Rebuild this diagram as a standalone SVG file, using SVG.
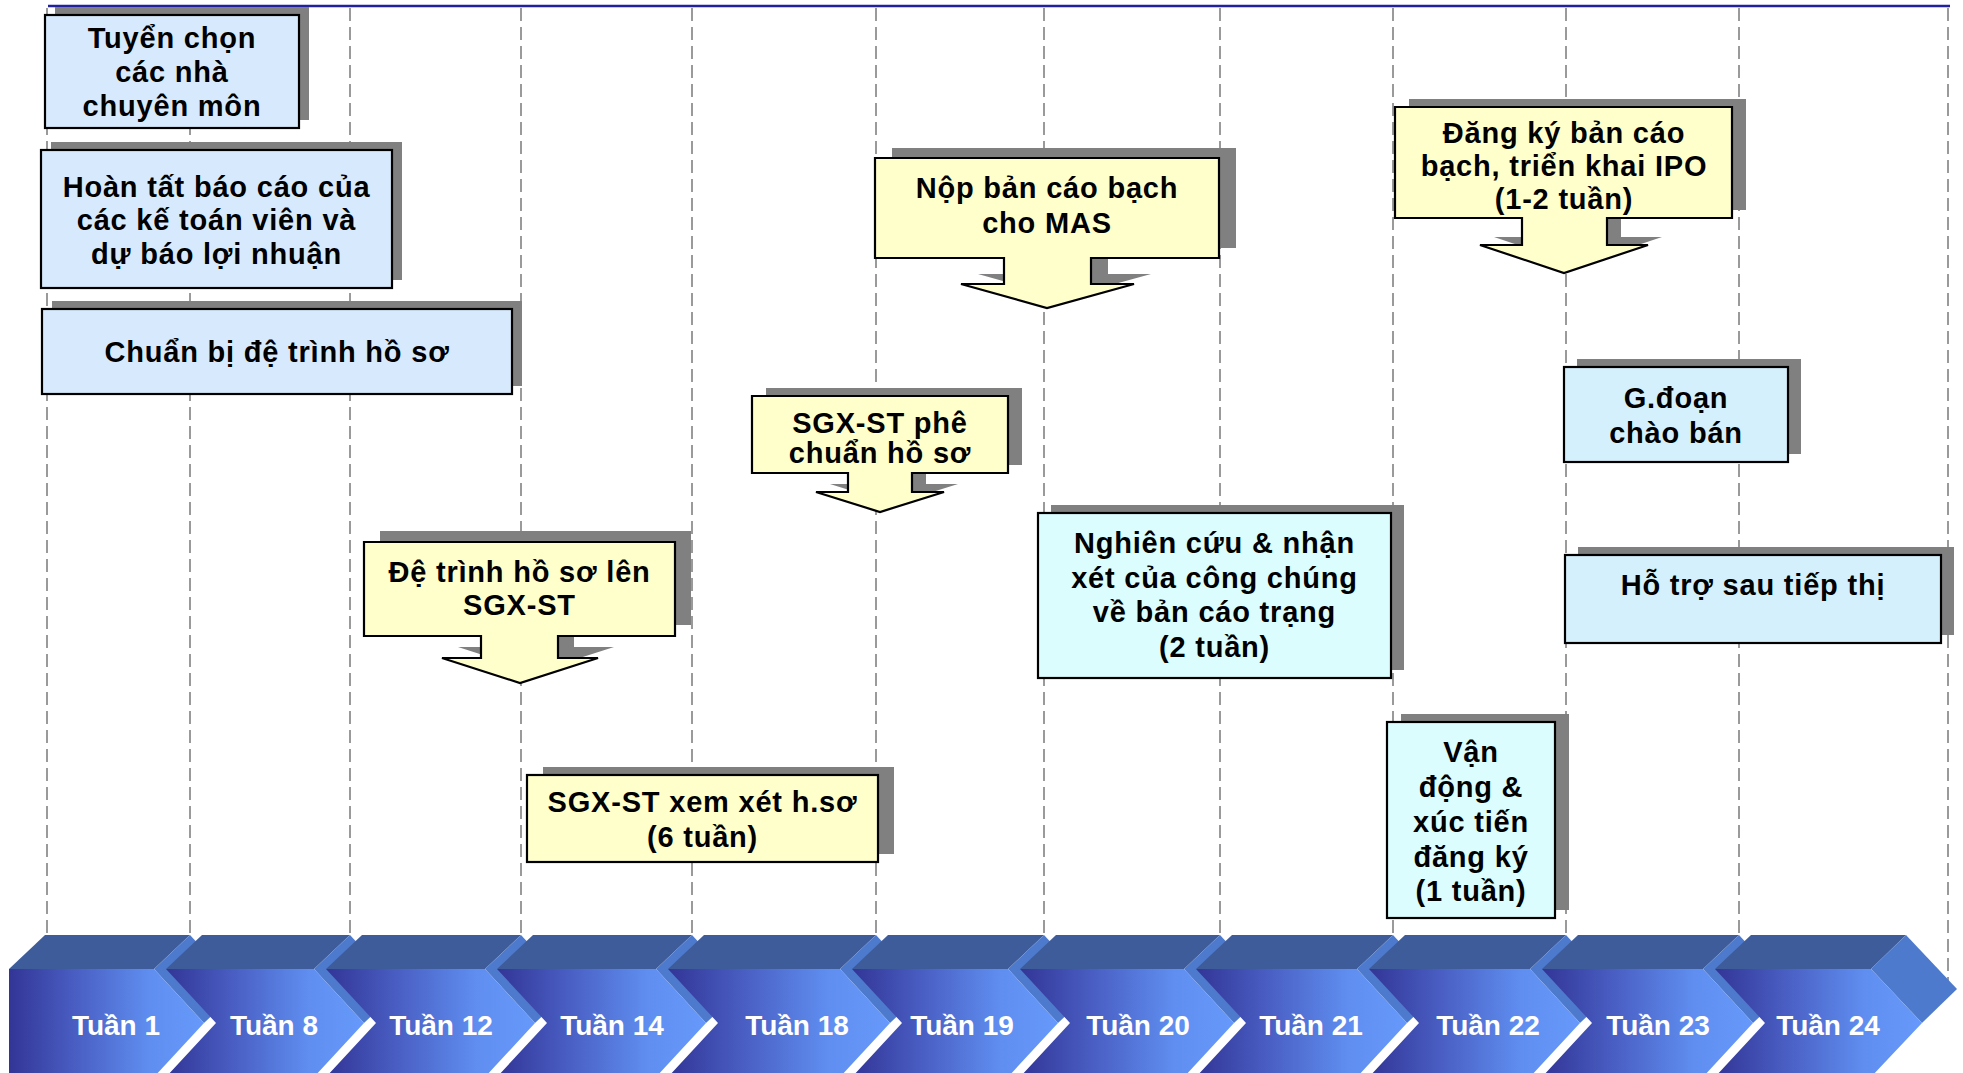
<svg xmlns="http://www.w3.org/2000/svg" width="1963" height="1073" viewBox="0 0 1963 1073">
<defs>
<linearGradient id="gFront" x1="0" y1="0" x2="1" y2="0">
<stop offset="0" stop-color="#323596"/>
<stop offset="0.35" stop-color="#4a5fc4"/>
<stop offset="0.72" stop-color="#5f8ef0"/>
<stop offset="1" stop-color="#6699fb"/>
</linearGradient>
<style>
.bg{fill:#ffffff}
.grid{stroke:#9a9a9a;stroke-width:2;stroke-dasharray:13 6;fill:none}
.sh{fill:#808080}
.bx{stroke:#000;stroke-width:2.2}
.blue{fill:#d7eafd}
.sky{fill:#d4f0fc}
.cyan{fill:#dbfdfe}
.yel{fill:#ffffcc}
.t{font-family:"Liberation Sans",Arial,sans-serif;font-weight:bold;font-size:29px;letter-spacing:0.8px;fill:#000;text-anchor:middle}
.top{fill:#3e5c9a}
.side{fill:#4e7acd}
.front{fill:url(#gFront)}
.ct{font-family:"Liberation Sans",Arial,sans-serif;font-weight:bold;font-size:28px;fill:#fff;text-anchor:middle}
</style>
</defs>
<rect class="bg" x="0" y="0" width="1963" height="1073"/>
<line x1="48" y1="6" x2="1950" y2="6" stroke="#2020a0" stroke-width="2.5"/>
<g id="gridlines">
<line class="grid" x1="47" y1="8" x2="47" y2="940"/>
<line class="grid" x1="190" y1="8" x2="190" y2="940"/>
<line class="grid" x1="350" y1="8" x2="350" y2="940"/>
<line class="grid" x1="521" y1="8" x2="521" y2="940"/>
<line class="grid" x1="692" y1="8" x2="692" y2="940"/>
<line class="grid" x1="876" y1="8" x2="876" y2="940"/>
<line class="grid" x1="1044" y1="8" x2="1044" y2="940"/>
<line class="grid" x1="1220" y1="8" x2="1220" y2="940"/>
<line class="grid" x1="1393" y1="8" x2="1393" y2="940"/>
<line class="grid" x1="1566" y1="8" x2="1566" y2="940"/>
<line class="grid" x1="1739" y1="8" x2="1739" y2="940"/>
<line class="grid" x1="1948" y1="8" x2="1948" y2="990"/>
</g>
<g id="timeline">
<g id="week1"><polygon class="top" points="9,969 45,935 190,935 154,969"/><polygon class="side" points="154,969 190,935 240,989 204,1023"/><polygon class="front" points="9,969 154,969 204,1023 154,1077 9,1077"/><text class="ct" x="116" y="1035">Tuần 1</text></g>
<g id="week8"><polygon class="top" points="166,969 202,935 350,935 314,969"/><polygon class="side" points="314,969 350,935 400,989 364,1023"/><polygon class="front" points="166,969 314,969 364,1023 314,1077 166,1077 216,1023"/><text class="ct" x="274" y="1035">Tuần 8</text></g>
<g id="week12"><polygon class="top" points="326,969 362,935 521,935 485,969"/><polygon class="side" points="485,969 521,935 571,989 535,1023"/><polygon class="front" points="326,969 485,969 535,1023 485,1077 326,1077 376,1023"/><text class="ct" x="441" y="1035">Tuần 12</text></g>
<g id="week14"><polygon class="top" points="497,969 533,935 692,935 656,969"/><polygon class="side" points="656,969 692,935 742,989 706,1023"/><polygon class="front" points="497,969 656,969 706,1023 656,1077 497,1077 547,1023"/><text class="ct" x="612" y="1035">Tuần 14</text></g>
<g id="week18"><polygon class="top" points="668,969 704,935 876,935 840,969"/><polygon class="side" points="840,969 876,935 926,989 890,1023"/><polygon class="front" points="668,969 840,969 890,1023 840,1077 668,1077 718,1023"/><text class="ct" x="797" y="1035">Tuần 18</text></g>
<g id="week19"><polygon class="top" points="852,969 888,935 1044,935 1008,969"/><polygon class="side" points="1008,969 1044,935 1094,989 1058,1023"/><polygon class="front" points="852,969 1008,969 1058,1023 1008,1077 852,1077 902,1023"/><text class="ct" x="962" y="1035">Tuần 19</text></g>
<g id="week20"><polygon class="top" points="1020,969 1056,935 1220,935 1184,969"/><polygon class="side" points="1184,969 1220,935 1270,989 1234,1023"/><polygon class="front" points="1020,969 1184,969 1234,1023 1184,1077 1020,1077 1070,1023"/><text class="ct" x="1138" y="1035">Tuần 20</text></g>
<g id="week21"><polygon class="top" points="1196,969 1232,935 1393,935 1357,969"/><polygon class="side" points="1357,969 1393,935 1443,989 1407,1023"/><polygon class="front" points="1196,969 1357,969 1407,1023 1357,1077 1196,1077 1246,1023"/><text class="ct" x="1311" y="1035">Tuần 21</text></g>
<g id="week22"><polygon class="top" points="1369,969 1405,935 1566,935 1530,969"/><polygon class="side" points="1530,969 1566,935 1616,989 1580,1023"/><polygon class="front" points="1369,969 1530,969 1580,1023 1530,1077 1369,1077 1419,1023"/><text class="ct" x="1488" y="1035">Tuần 22</text></g>
<g id="week23"><polygon class="top" points="1542,969 1578,935 1739,935 1703,969"/><polygon class="side" points="1703,969 1739,935 1789,989 1753,1023"/><polygon class="front" points="1542,969 1703,969 1753,1023 1703,1077 1542,1077 1592,1023"/><text class="ct" x="1658" y="1035">Tuần 23</text></g>
<g id="week24"><polygon class="top" points="1715,969 1751,935 1906,935 1871,969"/><polygon class="side" points="1871,969 1906,935 1957,989 1922,1023"/><polygon class="front" points="1715,969 1871,969 1922,1023 1871,1077 1715,1077 1765,1023"/><text class="ct" x="1828" y="1035">Tuần 24</text></g>
</g>
<g id="connectors"></g>
<g id="n-tuyen-chon">
<rect class="sh" x="55" y="7" width="254" height="113"/>
<rect class="bx blue" x="45" y="15" width="254" height="113"/>
<text class="t" x="172" y="48">Tuyển chọn</text>
<text class="t" x="172" y="82">các nhà</text>
<text class="t" x="172" y="116">chuyên môn</text>
</g>
<g id="n-hoan-tat">
<rect class="sh" x="51" y="142" width="351" height="138"/>
<rect class="bx blue" x="41" y="150" width="351" height="138"/>
<text class="t" x="216.5" y="197">Hoàn tất báo cáo của</text>
<text class="t" x="216.5" y="230">các kế toán viên và</text>
<text class="t" x="216.5" y="264">dự báo lợi nhuận</text>
</g>
<g id="n-chuan-bi">
<rect class="sh" x="52" y="301" width="470" height="85"/>
<rect class="bx blue" x="42" y="309" width="470" height="85"/>
<text class="t" x="277" y="362">Chuẩn bị đệ trình hồ sơ</text>
</g>
<g id="n-de-trinh">
<polygon class="sh" transform="translate(16,-11)" points="364,542 675,542 675,636 558,636 558,658 598,658 520,683 442,658 481,658 481,636 364,636"/>
<polygon class="bx yel" points="364,542 675,542 675,636 558,636 558,658 598,658 520,683 442,658 481,658 481,636 364,636"/>
<text class="t" x="519.5" y="582">Đệ trình hồ sơ lên</text>
<text class="t" x="519.5" y="615">SGX-ST</text>
</g>
<g id="n-xem-xet">
<rect class="sh" x="543" y="767" width="351" height="87"/>
<rect class="bx yel" x="527" y="775" width="351" height="87"/>
<text class="t" x="702.5" y="812">SGX-ST xem xét h.sơ</text>
<text class="t" x="702.5" y="847">(6 tuần)</text>
</g>
<g id="n-phe-chuan">
<polygon class="sh" transform="translate(14,-8)" points="752,396 1008,396 1008,473 912,473 912,492 944,492 880,512 816,492 848,492 848,473 752,473"/>
<polygon class="bx yel" points="752,396 1008,396 1008,473 912,473 912,492 944,492 880,512 816,492 848,492 848,473 752,473"/>
<text class="t" x="880" y="433">SGX-ST phê</text>
<text class="t" x="880" y="463">chuẩn hồ sơ</text>
</g>
<g id="n-nop-ban">
<polygon class="sh" transform="translate(17,-10)" points="875,158 1219,158 1219,258 1091,258 1091,284 1134,284 1047,308 961,284 1004,284 1004,258 875,258"/>
<polygon class="bx yel" points="875,158 1219,158 1219,258 1091,258 1091,284 1134,284 1047,308 961,284 1004,284 1004,258 875,258"/>
<text class="t" x="1047" y="198">Nộp bản cáo bạch</text>
<text class="t" x="1047" y="233">cho MAS</text>
</g>
<g id="n-nghien-cuu">
<rect class="sh" x="1051" y="505" width="353" height="165"/>
<rect class="bx cyan" x="1038" y="513" width="353" height="165"/>
<text class="t" x="1214.5" y="553">Nghiên cứu &amp; nhận</text>
<text class="t" x="1214.5" y="588">xét của công chúng</text>
<text class="t" x="1214.5" y="622">về bản cáo trạng</text>
<text class="t" x="1214.5" y="657">(2 tuần)</text>
</g>
<g id="n-dang-ky">
<polygon class="sh" transform="translate(14,-8)" points="1395,107 1732,107 1732,218 1607,218 1607,245 1648,245 1564,273 1480,245 1522,245 1522,218 1395,218"/>
<polygon class="bx yel" points="1395,107 1732,107 1732,218 1607,218 1607,245 1648,245 1564,273 1480,245 1522,245 1522,218 1395,218"/>
<text class="t" x="1564" y="143">Đăng ký bản cáo</text>
<text class="t" x="1564" y="176">bạch, triển khai IPO</text>
<text class="t" x="1564" y="209">(1-2 tuần)</text>
</g>
<g id="n-van-dong">
<rect class="sh" x="1401" y="714" width="168" height="196"/>
<rect class="bx cyan" x="1387" y="722" width="168" height="196"/>
<text class="t" x="1471" y="762">Vận</text>
<text class="t" x="1471" y="797">động &amp;</text>
<text class="t" x="1471" y="832">xúc tiến</text>
<text class="t" x="1471" y="867">đăng ký</text>
<text class="t" x="1471" y="901">(1 tuần)</text>
</g>
<g id="n-chao-ban">
<rect class="sh" x="1577" y="359" width="224" height="95"/>
<rect class="bx sky" x="1564" y="367" width="224" height="95"/>
<text class="t" x="1676" y="408">G.đoạn</text>
<text class="t" x="1676" y="443">chào bán</text>
</g>
<g id="n-ho-tro">
<rect class="sh" x="1578" y="547" width="376" height="88"/>
<rect class="bx sky" x="1565" y="555" width="376" height="88"/>
<text class="t" x="1753" y="595">Hỗ trợ sau tiếp thị</text>
</g>
</svg>
